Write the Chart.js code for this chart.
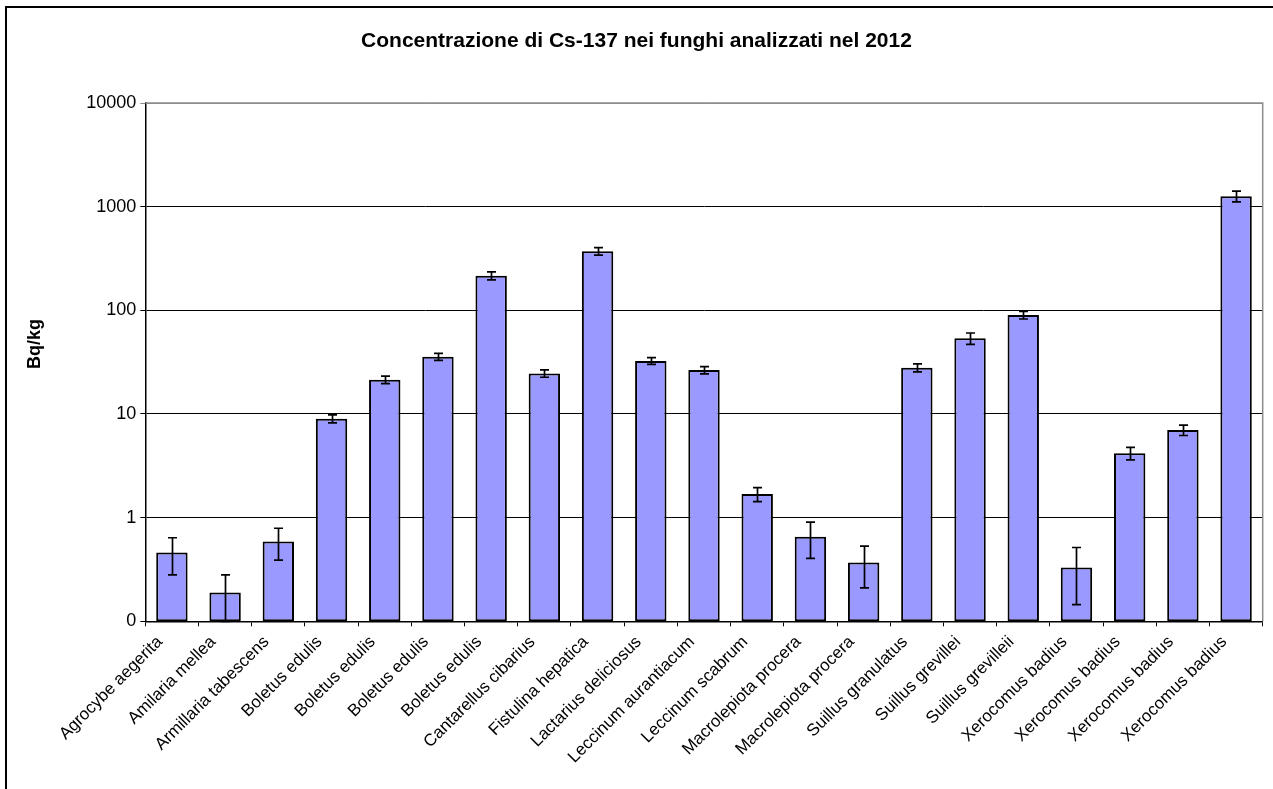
<!DOCTYPE html>
<html>
<head>
<meta charset="utf-8">
<title>Cs-137 nei funghi 2012</title>
<script src="https://cdn.jsdelivr.net/npm/chart.js@4.4.1/dist/chart.umd.min.js"></script>
<style>
  html, body { margin: 0; padding: 0; background: #fff; overflow: hidden; }
  #wrap { position: relative; width: 1273px; height: 789px; }
  #frame { position: absolute; left: 5px; top: 6px; width: 1320px; height: 820px;
           border-left: 2px solid #000; border-top: 2px solid #000; }
  #c { position: absolute; left: 0; top: 0; }
</style>
</head>
<body>
<div id="wrap">
  <div id="frame"></div>
  <canvas id="c" width="1273" height="789"></canvas>
</div>
<script>
// Specie analizzate (una barra per campione)
const categories = [
  'Agrocybe aegerita', 'Amilaria mellea', 'Armillaria tabescens',
  'Boletus edulis', 'Boletus edulis', 'Boletus edulis', 'Boletus edulis',
  'Cantarellus cibarius', 'Fistulina hepatica', 'Lactarius deliciosus',
  'Leccinum aurantiacum', 'Leccinum scabrum', 'Macrolepiota procera',
  'Macrolepiota procera', 'Suillus granulatus', 'Suillus grevillei',
  'Suillus grevilleii', 'Xerocomus badius', 'Xerocomus badius',
  'Xerocomus badius', 'Xerocomus badius'
];

// Concentrazione di Cs-137 (Bq/kg)
const values = [
  0.46, 0.19, 0.59,
  9.0, 21.4, 35.7, 216,
  24.6, 372, 32.5,
  26.5, 1.69, 0.655,
  0.37, 28, 53.7,
  90, 0.33, 4.18,
  7.0, 1260
];

// Incertezza (±, Bq/kg)
const errors = [
  0.18, 0.09, 0.20,
  0.8, 1.8, 2.8, 19,
  2.0, 31, 2.4,
  2.1, 0.26, 0.25,
  0.16, 2.5, 6.7,
  7.5, 0.185, 0.58,
  0.8, 150
];

// Asse logaritmico: il primo livello (0,1) viene etichettato "0"
const yTickValues = [0.1, 1, 10, 100, 1000, 10000];
const yTickLabels = ['0', '1', '10', '100', '1000', '10000'];

const yAxisTitle = 'Bq/kg';
const FONT = 'Liberation Sans, Arial, sans-serif';

// Barre d'errore verticali con cappucci
const errorBars = {
  id: 'errorBars',
  afterDatasetsDraw(chart) {
    const { ctx } = chart;
    const y = chart.scales.y;
    const meta = chart.getDatasetMeta(0);
    ctx.save();
    ctx.strokeStyle = '#000';
    ctx.lineWidth = 1.7;
    meta.data.forEach((bar, i) => {
      const x = Math.round(bar.x) + 0.5;
      const hi = y.getPixelForValue(values[i] + errors[i]);
      const lo = y.getPixelForValue(Math.max(values[i] - errors[i], y.min));
      const cap = 4.5;
      ctx.beginPath();
      ctx.moveTo(x, hi); ctx.lineTo(x, lo);
      ctx.moveTo(x - cap, hi); ctx.lineTo(x + cap, hi);
      ctx.moveTo(x - cap, lo); ctx.lineTo(x + cap, lo);
      ctx.stroke();
    });
    ctx.restore();
  }
};

// Bordo grigio superiore e destro dell'area del grafico
const plotFrame = {
  id: 'plotFrame',
  afterDraw(chart) {
    const { ctx, chartArea: a } = chart;
    ctx.save();
    ctx.strokeStyle = '#8c8c8c';
    ctx.lineWidth = 1.5;
    ctx.beginPath();
    ctx.moveTo(a.left, a.top);
    ctx.lineTo(a.right, a.top);
    ctx.lineTo(a.right, a.bottom);
    ctx.stroke();
    ctx.restore();
  }
};

// Etichette delle categorie ruotate a 45°, ancorate a sinistra del centro barra
const categoryLabels = {
  id: 'categoryLabels',
  afterDraw(chart) {
    const { ctx } = chart;
    const xs = chart.scales.x;
    ctx.save();
    ctx.fillStyle = '#000';
    ctx.font = '17px ' + FONT;
    ctx.textAlign = 'right';
    ctx.textBaseline = 'middle';
    categories.forEach((name, i) => {
      const px = xs.getPixelForTick(i);
      ctx.save();
      ctx.translate(px - 12, xs.top + 18);
      ctx.rotate(-Math.PI / 4);
      ctx.fillText(name, 0, 0);
      ctx.restore();
    });
    ctx.restore();
  }
};

// Titolo dell'asse verticale
const yTitle = {
  id: 'yTitle',
  afterDraw(chart) {
    const { ctx, chartArea: a } = chart;
    ctx.save();
    ctx.fillStyle = '#000';
    ctx.font = 'bold 18px ' + FONT;
    ctx.textAlign = 'center';
    ctx.textBaseline = 'middle';
    ctx.translate(35, a.top + (a.bottom - a.top) * 0.465);
    ctx.rotate(-Math.PI / 2);
    ctx.fillText(yAxisTitle, 0, 0);
    ctx.restore();
  }
};

new Chart(document.getElementById('c'), {
  type: 'bar',
  data: {
    labels: categories,
    datasets: [{
      data: values,
      backgroundColor: '#9999ff',
      borderColor: '#000',
      borderWidth: 2,
      borderSkipped: false,
      categoryPercentage: 1.0,
      barPercentage: 0.59
    }]
  },
  options: {
    responsive: false,
    animation: false,
    devicePixelRatio: 1,
    layout: { padding: { left: 10.3, right: 10.3, top: 0, bottom: 0 } },
    plugins: {
      legend: { display: false },
      tooltip: { enabled: false },
      title: {
        display: true,
        text: 'Concentrazione di Cs-137 nei funghi analizzati nel 2012',
        color: '#000',
        font: { family: FONT, size: 21, weight: 'bold' },
        padding: { top: 28.4, bottom: 49.4 }
      }
    },
    scales: {
      x: {
        offset: true,
        grid: { offset: true, drawOnChartArea: false, drawTicks: true, tickLength: 5, color: '#000', lineWidth: 1 },
        border: { color: '#000', width: 1.5 },
        ticks: { display: false },
        afterFit(s) { s.height = 789 - 621.3; }
      },
      y: {
        type: 'logarithmic',
        min: 0.1,
        max: 10000,
        afterBuildTicks(s) { s.ticks = yTickValues.map(v => ({ value: v })); },
        grid: {
          color: (c) => (c.tick && c.tick.value === 10000 ? '#8c8c8c' : '#000'),
          lineWidth: 1, drawTicks: true, tickLength: 5
        },
        border: { color: '#000', width: 1.5 },
        ticks: {
          color: '#000', padding: 4,
          font: { family: FONT, size: 18 },
          callback: (v, i) => yTickLabels[i]
        },
        afterFit(s) { s.width = 145.3 - 10.3; }
      }
    }
  },
  plugins: [errorBars, plotFrame, categoryLabels, yTitle]
});
</script>
</body>
</html>
